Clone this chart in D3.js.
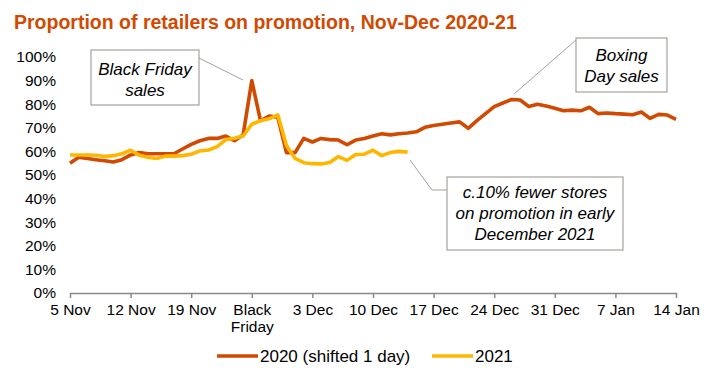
<!DOCTYPE html>
<html>
<head>
<meta charset="utf-8">
<script src="https://cdn.jsdelivr.net/npm/d3@7"></script>
<style>
  html, body { margin: 0; padding: 0; background: #fff; }
  svg { display: block; font-family: Arial, "Liberation Sans", sans-serif; }
</style>
</head>
<body>
<svg id="chart" width="726" height="386"></svg>
<script>
// ---- Data ----
const title = "Proportion of retailers on promotion, Nov-Dec 2020-21";
const xTickDays = [0, 7, 14, 21, 28, 35, 42, 49, 56, 63, 70];
const xTickLabels = ["5 Nov", "12 Nov", "19 Nov", "Black\nFriday", "3 Dec", "10 Dec", "17 Dec", "24 Dec", "31 Dec", "7 Jan", "14 Jan"];
const yTicks = [0, 10, 20, 30, 40, 50, 60, 70, 80, 90, 100];
const seriesNames = ["2020 (shifted 1 day)", "2021"];

// daily values from 5 Nov (day 0)
const values2020 = [
  55, 57.5, 57, 56.5, 56, 55.5, 56.5, 58.5, 59.5, 59,
  59, 59, 59, 61, 63, 64.5, 65.5, 65.5, 66.5, 64.5,
  67, 90, 73, 75, 74.5, 59.5, 59.5, 65.5, 64, 65.5,
  65, 64.8, 62.8, 64.8, 65.5, 66.5, 67.5, 67, 67.5, 67.8,
  68.3, 70.2, 71, 71.5, 72, 72.5, 69.8, 73, 76, 79,
  80.5, 82, 81.8, 79, 80, 79.2, 78.3, 77.2, 77.5, 77.2,
  78.7, 76, 76.3, 76, 75.8, 75.5, 76.7, 74, 75.7, 75.4,
  73.6
];
const values2021 = [
  58.5, 58.5, 58.5, 58.4, 57.8, 58.2, 59, 60.5, 58.4, 57.5,
  57, 58, 58, 58.2, 58.8, 60.2, 60.6, 62, 65, 65.6,
  66.5, 71.5, 73, 73.8, 75.5, 62.5, 57, 55.2, 54.8, 54.7,
  55.3, 57.8, 56.2, 58.7, 58.8, 60.5, 58.2, 59.5, 60, 59.7
];

const colors = ["#D04A02", "#FFB600"];

// ---- Chart ----
const svg = d3.select("#chart");
const font = "Arial, 'Liberation Sans', sans-serif";

const x = d3.scaleLinear().domain([0, 70]).range([70, 676]);
const y = d3.scaleLinear().domain([0, 100]).range([293, 57]);

// title
svg.append("text")
  .attr("x", 14).attr("y", 29)
  .attr("fill", "#D04A02")
  .attr("font-weight", "bold")
  .attr("font-size", 19.5)
  .text(title);

// y axis (labels only)
const yAxis = d3.axisLeft(y).tickValues(yTicks).tickFormat(d => d + "%").tickSize(0).tickPadding(0);
const gy = svg.append("g").attr("transform", "translate(56,0)").call(yAxis);
gy.select(".domain").remove();
gy.selectAll("text").attr("font-size", 15.5).attr("font-family", font).attr("fill", "#000");

// x axis
const xAxis = d3.axisBottom(x).tickValues(xTickDays).tickFormat((d, i) => xTickLabels[i]).tickSize(5).tickSizeOuter(0).tickPadding(6);
const gx = svg.append("g").attr("transform", "translate(0,293)").call(xAxis);
gx.select(".domain").attr("stroke", "#898989").attr("stroke-width", 1.5);
gx.selectAll(".tick line").attr("stroke", "#898989").attr("stroke-width", 1.5);
gx.selectAll("text").attr("font-size", 15.5).attr("font-family", font).attr("fill", "#000")
  .each(function(d, i) {
    const t = d3.select(this);
    const lines = xTickLabels[i].split("\n");
    t.text(null);
    lines.forEach((ln, j) => {
      t.append("tspan").attr("x", 0).attr("dy", j === 0 ? "0.71em" : "1.1em").text(ln);
    });
  });

// lines
const line = d3.line().x((d, i) => x(i)).y(d => y(d)).curve(d3.curveLinear);
svg.append("path").datum(values2020)
  .attr("fill", "none").attr("stroke", colors[0]).attr("stroke-width", 3.6)
  .attr("stroke-linejoin", "round").attr("d", line);
svg.append("path").datum(values2021)
  .attr("fill", "none").attr("stroke", colors[1]).attr("stroke-width", 3.6)
  .attr("stroke-linejoin", "round").attr("d", line);

// annotations
const annStroke = "#A6A19B";
function box(x0, y0, w, h, lines, ly, lh) {
  svg.append("rect").attr("x", x0).attr("y", y0).attr("width", w).attr("height", h)
    .attr("fill", "#fff").attr("stroke", annStroke).attr("stroke-width", 1.2);
  lines.forEach((t, i) => {
    svg.append("text").attr("x", x0 + w / 2).attr("y", ly + i * lh)
      .attr("text-anchor", "middle").attr("font-style", "italic")
      .attr("font-size", 17).attr("fill", "#000").text(t);
  });
}
// leader lines
svg.append("line").attr("x1", 199).attr("y1", 58).attr("x2", 243).attr("y2", 80)
  .attr("stroke", annStroke).attr("stroke-width", 1);
svg.append("line").attr("x1", 576).attr("y1", 40).attr("x2", 514).attr("y2", 94)
  .attr("stroke", annStroke).attr("stroke-width", 1);
svg.append("polyline").attr("points", "410,160 432,190 447,190")
  .attr("fill", "none").attr("stroke", annStroke).attr("stroke-width", 1);

box(91, 50, 108, 55, ["Black Friday", "sales"], 75, 21);
box(576, 38, 91, 54, ["Boxing", "Day sales"], 61, 21);
box(447, 177, 176, 73, ["c.10% fewer stores", "on promotion in early", "December 2021"], 198, 21);

// legend
const legend = [
  {name: seriesNames[0], color: colors[0], x1: 217, x2: 258},
  {name: seriesNames[1], color: colors[1], x1: 432, x2: 473}
];
legend.forEach(l => {
  svg.append("line").attr("x1", l.x1).attr("x2", l.x2).attr("y1", 356).attr("y2", 356)
    .attr("stroke", l.color).attr("stroke-width", 3.5);
  svg.append("text").attr("x", l.x2 + 2).attr("y", 362).attr("font-size", 17)
    .attr("fill", "#000").text(l.name);
});
</script>
</body>
</html>
